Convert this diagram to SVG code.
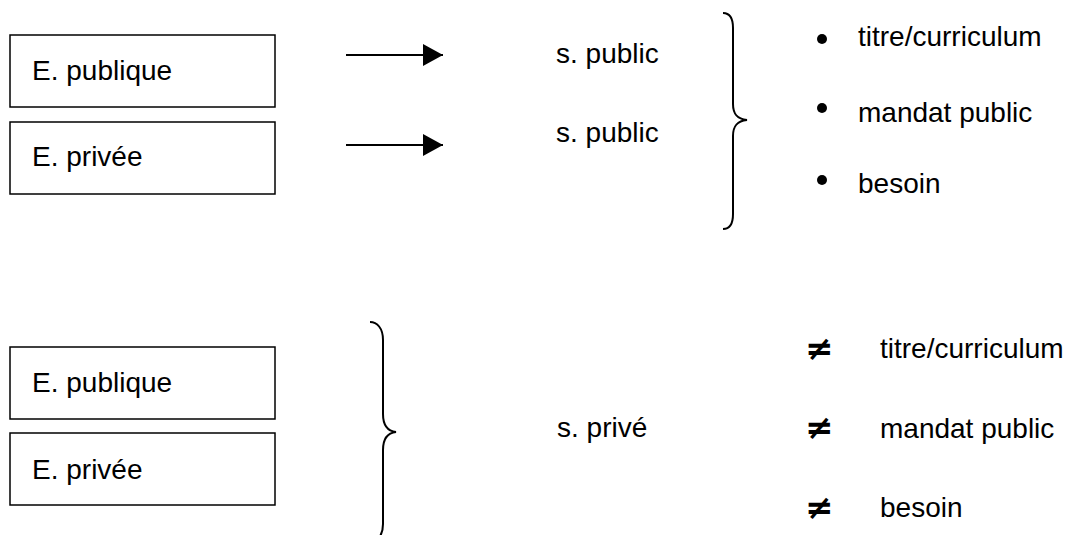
<svg xmlns="http://www.w3.org/2000/svg" width="1082" height="535" viewBox="0 0 1082 535">
<style>
.box{fill:#fff;stroke:#000;stroke-width:1.5}
.t{font-family:"Liberation Sans",Arial,sans-serif;font-size:28px;fill:#000}
.ne{font-family:"DejaVu Sans",sans-serif;font-size:34px;font-weight:bold;fill:#000}
.br{fill:none;stroke:#000;stroke-width:2}
.ln{stroke:#000;stroke-width:2}
</style>
<defs>
<marker id="ah" markerWidth="20" markerHeight="22" refX="20" refY="11" orient="auto" markerUnits="userSpaceOnUse">
<path d="M0,0 L20,11 L0,22 Z" fill="#000"/>
</marker>
</defs>
<rect width="1082" height="535" fill="#fff"/>
<g id="pub1"><rect class="box" x="10" y="35" width="265" height="72"/><text class="t" x="32" y="80">E. publique</text></g>
<g id="priv1"><rect class="box" x="10" y="122" width="265" height="72"/><text class="t" x="32" y="166">E. privée</text></g>
<g id="spub1"><text class="t" x="556" y="63">s. public</text></g>
<g id="spub2"><text class="t" x="556" y="142">s. public</text></g>
<g id="brace1"><path class="br" d="M723,13 C729,13 733,18 733,28 L733,104 C733,114 737,119 747,120 C737,121 733,126 733,136 L733,214 C733,224 729,229 723,229"/></g>
<g id="list1">
<circle cx="822" cy="39" r="5"/><text class="t" x="858" y="46">titre/curriculum</text>
<circle cx="822" cy="108" r="5"/><text class="t" x="858" y="122">mandat public</text>
<circle cx="822" cy="180" r="5"/><text class="t" x="858" y="193">besoin</text>
</g>
<g id="pub2"><rect class="box" x="10" y="347" width="265" height="72"/><text class="t" x="32" y="392">E. publique</text></g>
<g id="priv2"><rect class="box" x="10" y="433" width="265" height="72"/><text class="t" x="32" y="479">E. privée</text></g>
<g id="brace2"><path class="br" d="M370,322 C377,322 383,328 383,340 L383,414 C383,425 387,431 396,432 C387,433 383,439 383,450 L383,524 C383,536 377,542 370,542"/></g>
<g id="sprive"><text class="t" x="557" y="437">s. privé</text></g>
<g id="list2">
<text class="ne" x="805" y="360">≠</text><text class="t" x="880" y="358">titre/curriculum</text>
<text class="ne" x="805" y="439">≠</text><text class="t" x="880" y="438">mandat public</text>
<text class="ne" x="805" y="519">≠</text><text class="t" x="880" y="517">besoin</text>
</g>
<g id="connectors">
<line class="ln" x1="346" y1="55" x2="443" y2="55" marker-end="url(#ah)"/>
<line class="ln" x1="346" y1="145" x2="443" y2="145" marker-end="url(#ah)"/>
</g>
</svg>
